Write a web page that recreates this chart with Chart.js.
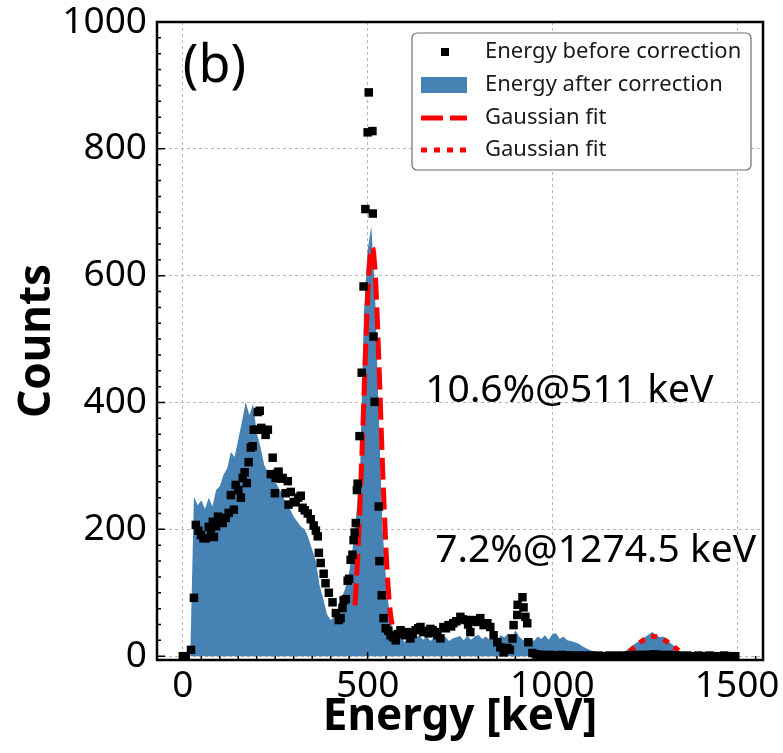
<!DOCTYPE html>
<html>
<head>
<meta charset="utf-8">
<script src="https://cdn.jsdelivr.net/npm/chart.js@4.4.1/dist/chart.umd.min.js"></script>
<style>
    html, body { margin: 0; padding: 0; background: #fff; }
    canvas { display: block; }
</style>
</head>
<body>
<canvas id="energyChart" width="783" height="753"></canvas>
<script>
// histogram after correction, 10 keV bins starting at 0 keV
const binStart = 0;
const binWidth = 10;
const afterCounts = [
    0, 0, 0, 252, 238, 246, 232, 250, 236, 262,
    268, 286, 296, 322, 314, 342, 370, 401, 380, 398,
    352, 330, 302, 290, 281, 276, 264, 256, 236, 232,
    220, 212, 204, 200, 186, 168, 150, 112, 90, 66,
    57, 62, 74, 92, 108, 132, 172, 228, 300, 540,
    640, 678, 575, 385, 205, 118, 62, 34, 28, 31,
    22, 32, 24, 29, 33, 26, 31, 24, 30, 32,
    26, 31, 24, 28, 30, 32, 25, 32, 26, 31,
    34, 27, 31, 26, 32, 25, 33, 30, 36, 28,
    41, 31, 26, 25, 29, 24, 31, 27, 33, 26,
    35, 36, 27, 31, 25, 24, 22, 20, 16, 13,
    10, 8, 5, 3, 2, 2, 1, 2, 3, 5,
    9, 14, 18, 22, 26, 30, 34, 38, 34, 30,
    31, 27, 20, 16, 10, 5, 2, 1, 0, 0,
    0, 0, 0, 0, 0, 0, 0, 0, 0, 0,
    0
];

// energy before correction (black squares)
const beforeEnergy = [
    0, 8, 22, 30, 35, 42, 49, 56, 62, 70,
    76, 81, 84, 90, 95, 102, 108, 116, 124, 130,
    138, 143, 150, 157, 162, 167, 173, 178, 184, 189,
    192, 200, 203, 208, 212, 216, 224, 230, 238, 243,
    249, 251, 257, 259, 265, 270, 278, 284, 286, 292,
    300, 305, 312, 319, 324, 330, 338, 346, 354, 360,
    365, 368, 373, 381, 386, 395, 405, 414, 422, 427,
    432, 435, 441, 446, 450, 454, 459, 462, 465, 468,
    471, 473, 478, 484, 489, 494, 500, 503, 513, 514,
    516, 519, 530, 532, 538, 543, 549, 556, 562, 569,
    576, 582, 589, 596, 602, 608, 616, 622, 630, 637,
    643, 651, 657, 665, 670, 676, 682, 689, 697, 705,
    712, 719, 726, 732, 740, 751, 758, 765, 772, 778,
    784, 790, 797, 805, 814, 824, 832, 841, 851, 859,
    868, 878, 885, 892, 895, 905, 906, 919, 922, 927,
    932, 935, 946,
    955, 965, 975, 985, 995, 1005, 1015, 1025, 1035, 1045,
    1055, 1065, 1075, 1085, 1095, 1105, 1115, 1125, 1135, 1145,
    1155, 1165, 1175, 1185, 1195, 1205, 1215, 1225, 1235, 1245,
    1255, 1265, 1275, 1285, 1295, 1305, 1315, 1325, 1335, 1345,
    1355, 1365, 1375, 1385, 1395, 1405, 1415, 1425, 1435, 1445,
    1455, 1465, 1475, 1485, 1495
];
const beforeCounts = [
    0, 0, 10, 92, 207, 198, 191, 186, 186, 204,
    196, 212, 188, 205, 220, 214, 210, 218, 226, 254,
    231, 270, 262, 250, 281, 290, 273, 306, 329, 331,
    357, 357, 385, 387, 360, 357, 349, 357, 287, 313,
    257, 281, 289, 291, 280, 281, 257, 276, 239, 259,
    243, 243, 250, 253, 234, 230, 225, 216, 206, 198,
    189, 163, 147, 130, 115, 100, 85, 68, 57, 60,
    76, 88, 90, 119, 122, 152, 160, 183, 195, 210,
    262, 272, 347, 447, 583, 705, 826, 889, 828, 698,
    504, 401, 236, 150, 96, 60, 44, 40, 33, 30,
    25, 35, 41, 36, 33, 38, 28, 35, 41, 44,
    46, 38, 40, 36, 43, 41, 38, 33, 28, 46,
    44, 49, 47, 52, 55, 62, 58, 57, 50, 38,
    57, 55, 54, 60, 49, 52, 46, 33, 22, 14,
    6, 13, 10, 28, 49, 65, 81, 93, 77, 62,
    52, 22, 5,
    3, 2, 2, 1, 2, 1, 1, 2, 1, 1,
    1, 0, 1, 1, 0, 1, 0, 1, 0, 0,
    1, 0, 1, 0, 1, 1, 2, 1, 2, 1,
    2, 2, 3, 2, 2, 1, 2, 1, 1, 1,
    0, 1, 0, 0, 1, 0, 0, 1, 0, 0,
    0, 1, 0, 0, 0
];

// gaussian fits
const fit511Energy = [466, 475, 485, 495, 502, 508, 512, 516, 522, 530, 540, 550, 554, 560, 566];
const fit511Counts = [80, 180, 325, 490, 590, 637, 645, 637, 588, 472, 305, 165, 122, 76, 50];
const fit1274Energy = [1210, 1220, 1230, 1240, 1250, 1260, 1270, 1280, 1290, 1300, 1310, 1320, 1330, 1340, 1350];
const fit1274Counts = [8, 13, 18, 23, 27, 30, 31, 31, 30, 27, 23, 19, 14, 10, 7];

const xTicks = [0, 500, 1000, 1500];
const yTicks = [0, 200, 400, 600, 800, 1000];

const FONT = 'Noto Sans';
const BLUE = '#4682b4';

function toPoints(xs, ys) {
    return xs.map((x, i) => ({ x: x, y: ys[i] }));
}

const decorPlugin = {
    id: 'decor',
    afterDraw(chart) {
        const { ctx, chartArea: a, scales: { x, y } } = chart;
        ctx.save();

        // inward ticks
        ctx.strokeStyle = '#000';
        ctx.lineWidth = 1.5;
        ctx.beginPath();
        for (let v = 0; v <= 1550; v += 50) {
            const px = x.getPixelForValue(v);
            const len = v % 500 === 0 ? 8 : 4;
            ctx.moveTo(px, a.bottom);
            ctx.lineTo(px, a.bottom - len);
        }
        for (let v = 0; v <= 1000; v += 25) {
            const py = y.getPixelForValue(v);
            const len = v % 200 === 0 ? 8 : 4;
            ctx.moveTo(a.left, py);
            ctx.lineTo(a.left + len, py);
        }
        ctx.stroke();

        // frame
        ctx.lineWidth = 2.5;
        ctx.strokeRect(a.left, a.top, a.right - a.left, a.bottom - a.top);

        // annotations
        ctx.fillStyle = '#000';
        ctx.textAlign = 'left';
        ctx.textBaseline = 'middle';
        ctx.font = '52px "' + FONT + '"';
        ctx.fillText('(b)', x.getPixelForValue(0), y.getPixelForValue(928));
        ctx.textBaseline = 'alphabetic';
        ctx.font = '39px "' + FONT + '"';
        ctx.fillText('10.6%@511 keV', x.getPixelForValue(656), y.getPixelForValue(401));
        ctx.fillText('7.2%@1274.5 keV', x.getPixelForValue(683), y.getPixelForValue(148));

        // legend
        const lw = 339, lh = 137;
        const lx = a.right - 12 - lw, ly = a.top + 11;
        ctx.beginPath();
        ctx.roundRect(lx, ly, lw, lh, 5);
        ctx.fillStyle = '#fff';
        ctx.fill();
        ctx.strokeStyle = '#6e6e6e';
        ctx.lineWidth = 1.2;
        ctx.stroke();

        const rows = [ly + 19, ly + 52, ly + 85, ly + 117];
        const hx0 = lx + 9, hx1 = lx + 55;
        ctx.fillStyle = '#000';
        ctx.fillRect(lx + 29, rows[0] - 4, 8, 8);
        ctx.fillStyle = BLUE;
        ctx.fillRect(hx0, rows[1] - 8, hx1 - hx0, 16);
        ctx.strokeStyle = 'red';
        ctx.lineWidth = 5;
        ctx.lineCap = 'butt';
        ctx.setLineDash([22, 7]);
        ctx.beginPath();
        ctx.moveTo(hx0, rows[2]);
        ctx.lineTo(hx1, rows[2]);
        ctx.stroke();
        ctx.setLineDash([6, 7]);
        ctx.beginPath();
        ctx.moveTo(hx0, rows[3]);
        ctx.lineTo(hx1, rows[3]);
        ctx.stroke();
        ctx.setLineDash([]);

        const labels = chart.data.datasets.map(d => d.label);
        ctx.fillStyle = '#1a1a1a';
        ctx.font = '22px "' + FONT + '"';
        ctx.textBaseline = 'middle';
        labels.forEach((t, i) => ctx.fillText(t, lx + 73, rows[i]));

        ctx.restore();
    }
};

const ctx = document.getElementById('energyChart').getContext('2d');
new Chart(ctx, {
    type: 'scatter',
    data: {
        datasets: [
            {
                label: 'Energy before correction',
                data: toPoints(beforeEnergy, beforeCounts),
                pointStyle: 'rect',
                pointRadius: 6,
                backgroundColor: '#000',
                borderColor: '#000',
                borderWidth: 0,
                order: 0
            },
            {
                type: 'line',
                label: 'Energy after correction',
                data: afterCounts.map((c, i) => ({ x: binStart + i * binWidth, y: c })),
                backgroundColor: BLUE,
                borderColor: BLUE,
                borderWidth: 0,
                pointRadius: 0,
                fill: 'origin',
                order: 3
            },
            {
                type: 'line',
                label: 'Gaussian fit',
                data: toPoints(fit511Energy, fit511Counts),
                borderColor: 'red',
                borderWidth: 5,
                borderDash: [22, 8],
                pointRadius: 0,
                fill: false,
                cubicInterpolationMode: 'monotone',
                order: 1
            },
            {
                type: 'line',
                label: 'Gaussian fit',
                data: toPoints(fit1274Energy, fit1274Counts),
                borderColor: 'red',
                borderWidth: 5,
                borderDash: [6, 7],
                pointRadius: 0,
                fill: false,
                cubicInterpolationMode: 'monotone',
                order: 1
            }
        ]
    },
    options: {
        responsive: false,
        animation: false,
        layout: { padding: { top: 22, right: 20, left: 0, bottom: 0 } },
        plugins: {
            legend: { display: false },
            tooltip: { enabled: false }
        },
        scales: {
            x: {
                type: 'linear',
                min: -70,
                max: 1570,
                afterBuildTicks: s => { s.ticks = xTicks.map(v => ({ value: v })); },
                afterFit: s => {
                    s.height = 93;
                    s.paddingLeft = 0;
                    s.paddingRight = 0;
                },
                ticks: {
                    font: { family: FONT, size: 37, lineHeight: 1 },
                    color: '#000',
                    padding: 8,
                    maxRotation: 0,
                    autoSkip: false,
                    callback: v => String(v)
                },
                grid: { color: '#b8b8b8', lineWidth: 1, drawTicks: false },
                border: { display: false, dash: [3, 3] },
                title: {
                    display: true,
                    text: 'Energy [keV]',
                    color: '#000',
                    font: { family: FONT, size: 44, weight: 'bold', lineHeight: 1 },
                    padding: { top: 0, bottom: 14 }
                }
            },
            y: {
                type: 'linear',
                min: -6,
                max: 1000,
                afterBuildTicks: s => { s.ticks = yTicks.map(v => ({ value: v })); },
                afterFit: s => {
                    s.width = 157;
                    s.paddingTop = 0;
                    s.paddingBottom = 0;
                },
                ticks: {
                    font: { family: FONT, size: 37, lineHeight: 1 },
                    color: '#000',
                    padding: 10,
                    autoSkip: false,
                    callback: v => String(v)
                },
                grid: { color: '#b8b8b8', lineWidth: 1, drawTicks: false },
                border: { display: false, dash: [3, 3] },
                title: {
                    display: true,
                    text: 'Counts',
                    color: '#000',
                    font: { family: FONT, size: 44, weight: 'bold', lineHeight: 1 },
                    padding: { top: 15, bottom: 0 }
                }
            }
        }
    },
    plugins: [decorPlugin]
});
</script>
</body>
</html>
